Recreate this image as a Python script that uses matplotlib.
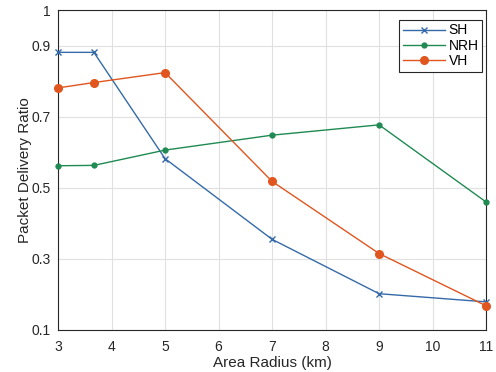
import matplotlib
matplotlib.use("Agg")
import matplotlib.pyplot as plt

plt.rcParams['font.family'] = ['Liberation Sans', 'DejaVu Sans']

x = [3, 3.67, 5, 7, 9, 11]
sh = [0.881, 0.881, 0.582, 0.355, 0.202, 0.179]
nrh = [0.562, 0.563, 0.606, 0.648, 0.677, 0.460]
vh = [0.781, 0.796, 0.824, 0.518, 0.315, 0.168]
xticks = [3, 4, 5, 6, 7, 8, 9, 10, 11]
yticks = [0.1, 0.3, 0.5, 0.7, 0.9, 1]
ytick_labels = ['0.1', '0.3', '0.5', '0.7', '0.9', '1']

fig = plt.figure(figsize=(4.96, 3.72), dpi=100)
ax = fig.add_axes([0.117, 0.113, 0.863, 0.86])

c_sh = '#356aa8'
c_nrh = '#1f8a52'
c_vh = '#e0561e'

ax.plot(x, sh, color=c_sh, lw=1.0, marker='x', ms=5, mew=1.0, label='SH', clip_on=False, zorder=3)
ax.plot(x, nrh, color=c_nrh, lw=1.0, marker='o', ms=3.5, label='NRH', clip_on=False, zorder=3)
ax.plot(x, vh, color=c_vh, lw=1.0, marker='o', ms=5.5, label='VH', clip_on=False, zorder=3)

ax.set_xlim(3, 11)
ax.set_ylim(0.1, 1)
ax.set_xticks(xticks)
ax.set_yticks(yticks)
ax.set_yticklabels(ytick_labels)
ax.grid(True, color='#e0e0e0', lw=0.8)
ax.set_axisbelow(True)
ax.tick_params(direction='in', length=0, labelsize=10, colors='#262626')
ax.tick_params(axis='x', pad=7)
ax.tick_params(axis='y', pad=5)
for s in ax.spines.values():
    s.set_color('#262626')
    s.set_linewidth(0.8)

ax.set_xlabel('Area Radius (km)', fontsize=11, color='#262626', labelpad=2)
ax.set_ylabel('Packet Delivery Ratio', fontsize=11, color='#262626', labelpad=0)

leg = ax.legend(loc='upper right', bbox_to_anchor=(0.991, 0.969), fontsize=10,
                fancybox=False, framealpha=1, edgecolor='#262626',
                borderpad=0.25, labelspacing=0.1, handlelength=3.0,
                handletextpad=0.3, borderaxespad=0.0)
leg.get_frame().set_linewidth(0.8)

fig.savefig('out.png', dpi=100)
